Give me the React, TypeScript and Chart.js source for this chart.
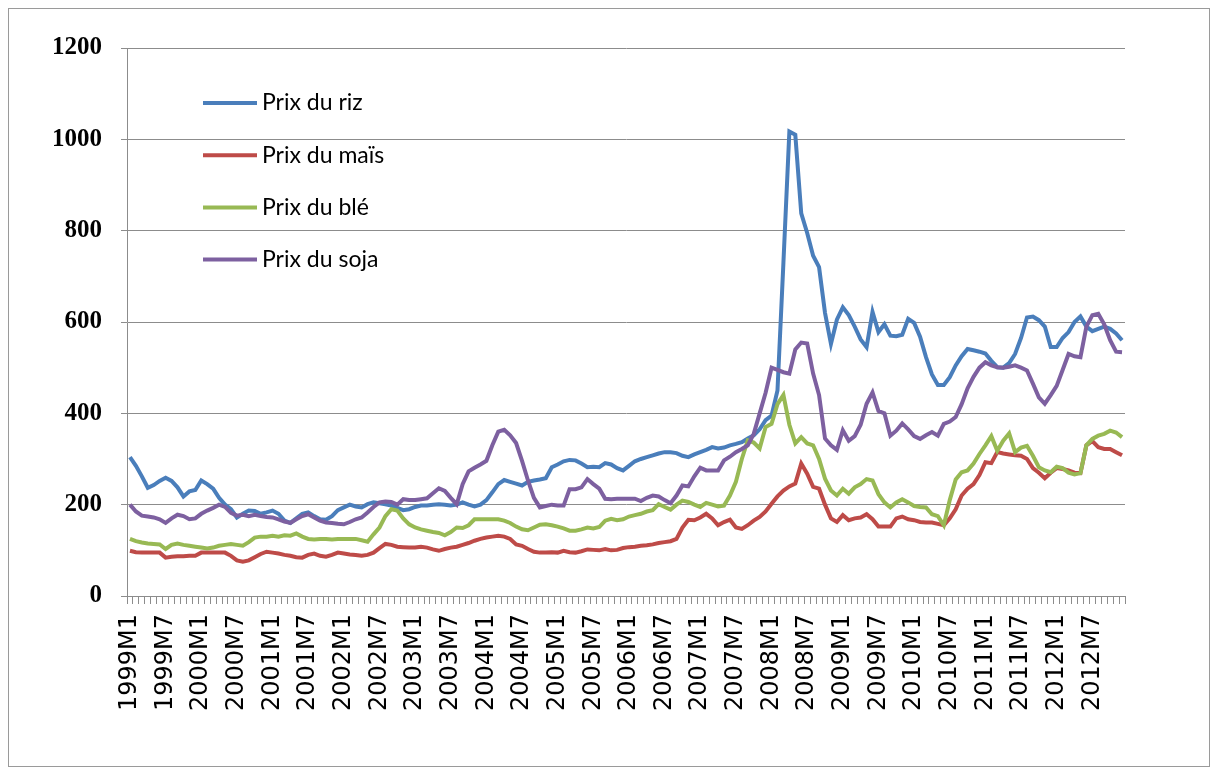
import React, { useEffect, useRef } from "react";
import { Chart, registerables } from "chart.js";

Chart.register(...registerables);

const years = [1999, 2000, 2001, 2002, 2003, 2004, 2005, 2006, 2007, 2008, 2009, 2010, 2011, 2012];
const categories: string[] = [];
for (const y of years) for (let m = 1; m <= 12; m++) categories.push(`${y}M${m}`);

const seriesNames = ["Prix du riz", "Prix du maïs", "Prix du blé", "Prix du soja"];
const seriesColors = ["#4A7EBB", "#BE4B48", "#98B954", "#7D60A0"];

const riz = [
  304, 285, 262, 237, 243, 252, 259, 252, 238, 218, 229, 232,
  253, 245, 235, 215, 200, 190, 172, 180, 187, 186, 180, 183,
  187, 180, 165, 160, 170, 180, 183, 175, 168, 167, 175, 188,
  194, 200, 196, 194, 201, 205, 203, 201, 198, 193, 188, 190,
  195, 198, 198, 200, 201, 200, 198, 200, 205, 200, 196, 200,
  210, 227, 245, 254, 250, 246, 242, 250, 253, 255, 258, 282,
  288, 295, 298, 297, 290, 282, 283, 282, 291, 288, 280, 275,
  285, 295, 300, 304, 308, 312, 315, 315, 313, 307, 304, 310,
  315, 320, 326, 323, 325, 330, 333, 337, 345, 352, 365, 385,
  395, 450, 730, 1017, 1010, 838, 795, 745, 720, 620, 552, 605,
  632, 615, 590, 562, 545, 622, 578, 595, 570, 569, 572, 607,
  598, 568, 523, 485, 462, 462, 479, 505, 525, 541, 538, 535,
  531, 515, 501, 500, 510, 530, 565, 610, 612, 604, 590, 545,
  545, 565, 578, 600, 612, 590, 580, 585, 590, 585, 575, 560,
];

const mais = [
  99, 96, 95, 95, 95, 95, 84, 86, 87, 87, 88, 88,
  95, 95, 95, 95, 95, 88, 78, 75, 78, 85, 92, 97,
  95, 93, 90, 88, 85, 84, 90, 93, 88, 86, 90, 95,
  93, 91, 90, 88, 90, 95, 105, 114, 112, 108, 107, 106,
  106, 108, 106, 102, 99, 103, 106, 108, 112, 116, 121, 125,
  128, 130, 132, 130, 125, 113, 110, 103, 97, 95, 95, 96,
  95, 99, 96, 95, 98, 102, 101, 100, 103, 100, 101, 105,
  107, 108, 110, 111, 113, 116, 118, 120, 125, 150, 167, 166,
  172, 180, 170, 155, 162, 167, 150, 147, 155, 165, 173, 185,
  202, 218, 231, 240, 246, 290, 268, 239, 235, 200, 170, 162,
  177, 166, 170, 172, 179, 168, 152, 152, 152, 170, 174, 168,
  166, 162, 161, 161, 158, 155, 170, 190, 220, 235, 245, 265,
  293, 291, 315, 312, 310, 308, 307, 300, 280, 270, 258, 270,
  280, 278, 275, 270, 269, 330, 339, 326, 322, 322, 315, 308,
];

const ble = [
  125, 120, 117, 115, 114, 113, 103, 112, 115, 112, 110, 108,
  106, 104, 106, 110, 112, 114, 112, 110, 118, 128, 130, 130,
  132, 130, 133, 132, 137, 130, 125, 124, 125, 125, 124, 125,
  125, 125, 125, 122, 119, 135, 150, 175, 190, 187, 170, 157,
  150, 146, 143, 140, 138, 133, 140, 150, 149, 155, 168, 168,
  168, 168, 168, 165, 160, 152, 146, 144, 150, 156, 157, 155,
  152, 148, 143, 143, 146, 150, 148, 151, 165, 169, 166, 168,
  174, 177, 180, 185, 188, 201, 195, 189, 200, 209, 206, 200,
  195, 204, 200, 196, 198, 220, 250, 300, 341, 336, 323, 370,
  377, 420, 440, 375, 334, 348, 334, 330, 300, 257, 231, 220,
  235, 224, 238, 245, 256, 253, 223, 205, 194, 205, 212, 205,
  197, 195, 194, 179, 175, 155, 210, 255, 271, 275, 290, 311,
  330, 350, 318, 340, 356, 315, 325, 329, 307, 282, 275, 271,
  283, 280, 270, 266, 269, 330, 344, 351, 355, 362, 358, 348,
];

const soja = [
  200, 185, 176, 174, 172, 168, 160, 170, 178, 175, 168, 170,
  180, 187, 193, 200, 195, 182, 176, 178, 175, 178, 175, 173,
  172, 168, 163, 160, 168, 175, 179, 172, 165, 161, 160, 158,
  157, 162, 168, 172, 183, 195, 205, 207, 206, 200, 212, 210,
  210, 212, 214, 225, 236, 230, 215, 201, 245, 273, 281, 288,
  296, 330, 360, 364, 352, 335, 296, 253, 215, 194, 197, 200,
  198, 198, 234, 234, 238, 256, 245, 235, 213, 212, 213, 213,
  213, 213, 208, 215, 220, 218, 210, 203, 220, 242, 240, 262,
  281, 275, 275, 275, 297, 305, 315, 322, 330, 355, 400, 445,
  500, 495, 490, 487, 540, 555, 553, 487, 440, 345, 330, 320,
  363, 340, 350, 375, 421, 446, 405, 400, 351, 362, 378, 365,
  350, 344, 352, 359, 351, 377, 382, 392, 420, 455, 480, 500,
  512, 505, 501, 500, 502, 505, 500, 494, 465, 435, 421, 440,
  460, 495, 530, 525, 523, 590, 615, 618, 595, 560, 535, 534,
];

const seriesData = [riz, mais, ble, soja];
const yTicks = { min: 0, max: 1200, step: 200 };

const insideLegend = {
  id: "insideLegend",
  afterDraw(chart: any) {
    const { ctx, chartArea } = chart;
    ctx.save();
    chart.data.datasets.forEach((ds: any, i: number) => {
      const y = chartArea.top + 55 + i * 52.2;
      const x0 = chartArea.left + 76;
      ctx.strokeStyle = ds.borderColor;
      ctx.lineWidth = 4;
      ctx.lineCap = "butt";
      ctx.beginPath();
      ctx.moveTo(x0, y);
      ctx.lineTo(x0 + 54, y);
      ctx.stroke();
      ctx.fillStyle = "#000";
      ctx.font = "23px Lato";
      ctx.textBaseline = "middle";
      ctx.textAlign = "left";
      ctx.fillText(ds.label, x0 + 59, y);
    });
    ctx.restore();
  },
};

export default function App() {
  const ref = useRef<HTMLCanvasElement>(null);
  useEffect(() => {
    if (!ref.current) return;
    const chart = new Chart(ref.current, {
      type: "line",
      data: {
        labels: categories,
        datasets: seriesNames.map((name, i) => ({
          label: name,
          data: seriesData[i],
          borderColor: seriesColors[i],
          backgroundColor: seriesColors[i],
          borderWidth: 4,
          pointRadius: 0,
          tension: 0,
          fill: false,
          order: seriesNames.length - i,
        })),
      },
      options: {
        animation: false,
        responsive: false,
        maintainAspectRatio: false,
        layout: { padding: { top: 39, right: 84, bottom: 30, left: 0 } },
        plugins: { legend: { display: false }, tooltip: { enabled: false } },
        scales: {
          x: {
            type: "category",
            offset: true,
            grid: { offset: true, drawOnChartArea: false, drawTicks: true, tickLength: 8, color: "#8c8c8c" },
            border: { color: "#8c8c8c" },
            ticks: {
              autoSkip: false,
              maxRotation: 90,
              minRotation: 90,
              padding: 10,
              color: "#000",
              font: { family: "DejaVu Sans", size: 24 },
              callback: (_v: any, i: number) => (i % 6 === 0 ? categories[i] : ""),
            },
            afterFit: (s: any) => {
              s.height = 140;
            },
          },
          y: {
            min: yTicks.min,
            max: yTicks.max,
            ticks: {
              stepSize: yTicks.step,
              padding: 19,
              color: "#000",
              font: { family: "Liberation Serif", size: 25, weight: "bold" },
              callback: (v: any) => String(v),
            },
            grid: { color: "#8c8c8c", tickLength: 6 },
            border: { color: "#8c8c8c" },
            afterFit: (s: any) => {
              s.width = 118;
            },
          },
        },
      },
      plugins: [insideLegend],
    } as any);
    return () => chart.destroy();
  }, []);

  return (
    <div style={{ width: 1200, height: 757, border: "1px solid #9a9a9a", background: "#fff" }}>
      <canvas ref={ref} width={1200} height={757} style={{ display: "block" }} />
    </div>
  );
}
